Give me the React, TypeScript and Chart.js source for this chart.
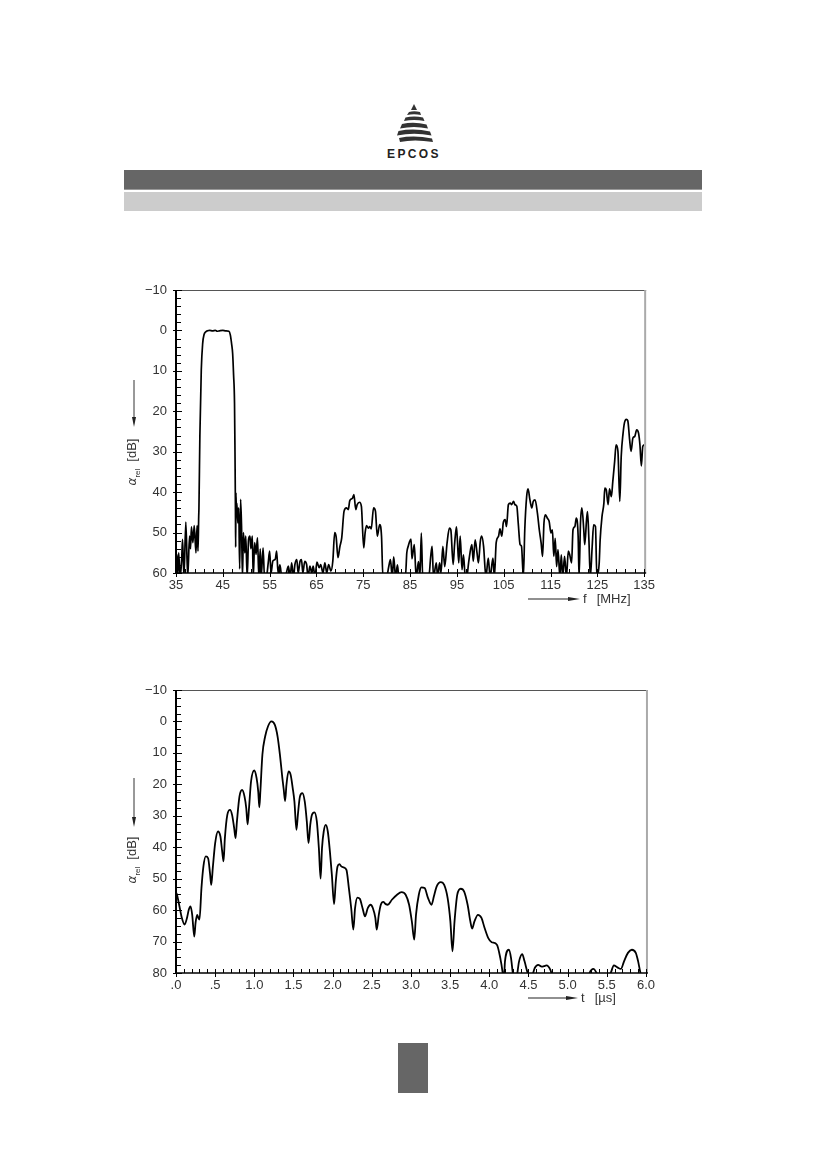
import React, { useEffect, useRef } from "react";
import { Chart, registerables } from "chart.js";

Chart.register(...registerables);

// ---------- Frequency response (top chart) ----------
const freqMHz = [
  35.0, 35.2, 35.4, 35.57, 35.9, 36.2, 36.4, 36.7, 37.1, 37.5, 37.9, 38.1, 38.3, 38.6, 38.9, 39.26, 39.5, 39.7, 39.85, 39.9,
  40.1, 40.4, 40.7, 41.0, 41.3, 41.7, 42.2, 42.8, 43.4, 43.8, 44.3, 45.0, 45.6, 46.3, 46.6, 46.9, 47.1, 47.3, 47.5, 47.6,
  47.7, 47.75, 47.8, 47.9, 48.0, 48.2, 48.4, 48.6, 48.8, 49.0, 49.2, 49.4, 49.7, 49.9, 50.2, 50.5, 50.8, 51.0, 51.3, 51.5,
  51.8, 52.1, 52.4, 52.7, 53.0, 53.2, 53.6, 53.9, 54.3, 54.7, 55.0, 55.3, 55.7, 56.2, 56.5, 56.8, 57.2, 57.6, 58.3, 59.0,
  59.4, 59.7, 60.1, 60.4, 60.8, 61.1, 61.5, 61.8, 62.1, 62.5, 62.9, 63.2, 63.6, 64.0, 64.3, 64.7, 65.1, 65.6, 65.9, 66.4,
  66.8, 67.2, 67.6, 68.1, 68.5, 68.9, 69.2, 69.6, 70.0, 70.4, 70.9, 71.4, 71.8, 72.1, 72.4, 72.7, 73.0, 73.4, 73.7, 74.2,
  74.6, 75.1, 75.4, 75.7, 76.1, 76.4, 76.7, 77.2, 77.6, 78.0, 78.5, 78.9, 79.2, 80.0, 80.4, 80.8, 81.2, 81.5, 81.9, 82.3,
  82.6, 84.0, 84.3, 84.6, 84.9, 85.2, 85.4, 85.9, 86.3, 86.8, 87.1, 87.4, 87.7, 89.0, 89.4, 89.7, 90.0, 90.6, 90.9, 91.3,
  91.6, 92.0, 92.4, 92.9, 93.4, 93.7, 94.2, 94.5, 94.9, 95.1, 95.4, 95.7, 96.1, 96.4, 96.8, 97.1, 97.5, 97.8, 98.2, 98.5,
  98.9, 99.3, 99.6, 100.0, 100.3, 100.7, 101.2, 101.7, 102.1, 102.7, 103.0, 103.4, 103.9, 104.2, 104.6, 104.9, 105.3, 105.6, 106.0, 106.4,
  106.7, 107.1, 107.4, 107.8, 108.1, 108.5, 108.8, 109.2, 109.5, 109.9, 110.2, 110.6, 111.0, 111.3, 111.7, 112.2, 112.6, 113.0, 113.3, 113.6,
  113.9, 114.3, 114.7, 115.1, 115.4, 115.7, 116.0, 116.3, 116.6, 117.0, 117.3, 117.6, 118.0, 118.4, 118.8, 119.1, 119.5, 119.8, 120.2, 120.5,
  120.9, 121.1, 121.4, 121.7, 122.1, 122.3, 122.7, 122.9, 123.2, 123.5, 123.9, 124.2, 124.6, 124.9, 125.4, 125.6, 126.0, 126.4, 126.6, 126.9,
  127.3, 127.6, 128.0, 128.3, 128.7, 129.0, 129.4, 129.8, 130.1, 130.5, 130.8, 131.2, 131.5, 131.9, 132.2, 132.6, 133.0, 133.4, 133.8, 134.1,
  134.4, 134.7, 135.0,
];
const freqAttenDb = [
  56, 55.4, 60.5, 55, 61, 57, 51.7, 61, 47.4, 61, 50.9, 54, 48.6, 52.5, 48.3, 55, 48.3, 54.6, 46, 44,
  26, 9.8, 3.2, 1.0, 0.4, 0.1, 0.0, 0.1, 0.0, 0.2, 0.1, 0.0, 0.1, 0.2, 1.1, 3.5, 5.7, 11, 18, 30,
  45, 53.6, 40.2, 44.7, 42.7, 47.6, 43.9, 59, 41.8, 48.4, 61, 50, 55, 50.9, 61, 51.7, 50.9, 54, 50.9, 61,
  52.5, 55.4, 51.3, 61, 54, 61, 53.8, 61, 61, 57.5, 54.6, 60, 57, 56.6, 54.6, 60, 58, 61, 61, 58.3,
  61, 57.5, 61, 57.9, 56.7, 60, 57.1, 56.7, 60, 57.1, 57.9, 61, 58.3, 60, 58.3, 61, 57.3, 58.7, 57.9, 60,
  57.5, 60, 57.9, 59.5, 57, 50, 51, 56.2, 53.5, 51.3, 44.7, 43.9, 44.3, 42.2, 41.7, 41.5, 40.6, 44.3, 43.1, 42.5,
  43.5, 53.8, 50, 48.3, 48.9, 48.5, 49.1, 43.9, 44.7, 50.9, 48, 50.9, 61, 61, 58.7, 56.7, 61, 56, 61, 58,
  61, 61, 55, 53.4, 52.2, 51.6, 56.5, 53, 61, 57.2, 61, 50.1, 61, 61, 56, 53.4, 61, 57.5, 61, 57.5,
  60, 53.4, 58.4, 52.6, 48.9, 49.3, 57.9, 53, 48.6, 51.8, 57.5, 50.9, 59.2, 55.5, 61, 61, 57.5, 55, 53, 57.1,
  51.8, 55, 57.5, 52.2, 50.9, 53.4, 61, 56.3, 61, 56.3, 61, 52.4, 50.9, 49.1, 50.9, 47.6, 46.8, 48.5, 43.1, 42.7,
  43.1, 42.3, 43.1, 43.5, 47.6, 53, 53.4, 61, 49.3, 41.1, 39.2, 41.9, 43.9, 42.3, 41.9, 45.2, 49.3, 52.6, 55.9, 47.6,
  45.6, 46.4, 47.2, 50.1, 49.3, 55.9, 51.4, 58.4, 54.2, 61, 55.5, 61, 55.9, 61, 54.6, 55.5, 57.5, 49.3, 48.5, 46.4,
  50.9, 61, 47.6, 43.9, 49.3, 53, 46.8, 44.8, 51.8, 61, 53.4, 48.1, 48.5, 61, 57.5, 51.8, 46, 42.7, 39, 39.4,
  43.1, 39.2, 41.1, 37.4, 32.4, 28.3, 29.9, 42.3, 31.2, 25.4, 22.8, 22, 22.3, 27.1, 29.9, 26.6, 26.2, 24.6, 25.4, 28.3,
  33.5, 28.7, 28.3,
];
const freqTickValues = [35, 45, 55, 65, 75, 85, 95, 105, 115, 125, 135];
const freqTickLabels = ["35", "45", "55", "65", "75", "85", "95", "105", "115", "125", "135"];
const freqDbTickValues = [-10, 0, 10, 20, 30, 40, 50, 60];
const freqDbTickLabels = ["\u221210", "0", "10", "20", "30", "40", "50", "60"];

// ---------- Impulse response (bottom chart) ----------
const timeUs = [
  0.0, 0.01, 0.04, 0.075, 0.11, 0.14, 0.163, 0.185, 0.207, 0.233, 0.25, 0.27, 0.286, 0.3, 0.325, 0.35, 0.38, 0.41, 0.435, 0.45,
  0.47, 0.5, 0.536, 0.567, 0.59, 0.607, 0.624, 0.655, 0.69, 0.716, 0.743, 0.76, 0.778, 0.81, 0.844, 0.875, 0.897, 0.914, 0.932, 0.958,
  0.998, 1.029, 1.05, 1.064, 1.077, 1.103, 1.138, 1.174, 1.218, 1.262, 1.297, 1.327, 1.358, 1.376, 1.393, 1.41, 1.437, 1.464, 1.49, 1.512,
  1.538, 1.556, 1.582, 1.613, 1.644, 1.67, 1.692, 1.714, 1.736, 1.767, 1.798, 1.824, 1.846, 1.864, 1.886, 1.912, 1.938, 1.965, 1.99, 2.018,
  2.04, 2.062, 2.088, 2.11, 2.14, 2.176, 2.207, 2.237, 2.264, 2.286, 2.316, 2.347, 2.382, 2.413, 2.448, 2.484, 2.514, 2.545, 2.563, 2.589,
  2.615, 2.646, 2.677, 2.703, 2.756, 2.822, 2.879, 2.932, 2.976, 3.011, 3.042, 3.064, 3.1, 3.134, 3.174, 3.218, 3.262, 3.292, 3.327, 3.38,
  3.424, 3.468, 3.503, 3.53, 3.556, 3.591, 3.635, 3.679, 3.723, 3.758, 3.78, 3.81, 3.855, 3.9, 3.94, 3.987, 4.03, 4.097, 4.14, 4.171,
  4.185, 4.2, 4.25, 4.277, 4.3, 4.33, 4.38, 4.42, 4.45, 4.49, 4.53, 4.58, 4.624, 4.67, 4.7, 4.73, 4.78, 4.8, 5.0, 5.25,
  5.28, 5.33, 5.37, 5.45, 5.55, 5.59, 5.635, 5.68, 5.72, 5.77, 5.82, 5.87, 5.9, 5.93, 6.0,
];
const timeAttenDb = [
  54.5, 54.9, 58.3, 62.5, 64.6, 62.5, 59.9, 58.8, 61.5, 68.4, 64, 61.5, 62.5, 63, 53, 46.1, 42.9, 43.5, 48.5, 52,
  46.5, 38.7, 35, 36.6, 41.4, 44.5, 37.1, 29.7, 28.1, 29.7, 34, 37.1, 31.8, 23.9, 21.8, 23.9, 27.6, 32.7, 27.6, 19.1,
  15.6, 18, 22.3, 27.3, 22.3, 10.6, 4.8, 1.6, 0, 1.1, 4.8, 10.6, 18, 21.8, 25.3, 20.2, 15.9, 17, 21.2, 25.5,
  34.5, 29.7, 23.9, 22.8, 25.5, 31.8, 38.7, 32.9, 29.7, 28.9, 31.8, 40.3, 50, 40.3, 35, 32.9, 35, 41.4, 48.8, 58.1,
  50.9, 46.1, 45.4, 46.1, 46.4, 47.2, 53, 59.4, 66.2, 59.4, 56, 56.4, 59.4, 62, 59.4, 58.3, 59.4, 62.5, 66.2, 61.5,
  58.3, 57.4, 58.1, 58.3, 56.7, 55.1, 54.3, 55.1, 58.3, 63.6, 69.4, 61.5, 55.1, 52.8, 53, 56.2, 58.3, 55.7, 52.5, 51.1,
  52, 56.2, 63.6, 73.1, 63.6, 55.1, 53.2, 54.1, 58.3, 63.6, 65.9, 63.6, 61.5, 62.5, 65.7, 68.9, 70.2, 71, 75.2, 80,
  83, 76.3, 72.6, 75.2, 80, 84, 76.3, 74, 76.3, 80, 82, 78.4, 77.4, 78, 77.8, 77.6, 79, 80.5, 85, 83,
  80, 78.7, 80, 84, 80, 77.6, 78.2, 78.7, 76.3, 73.6, 72.6, 73.6, 76.3, 80, 84,
];
const timeTickValues = [0, 0.5, 1, 1.5, 2, 2.5, 3, 3.5, 4, 4.5, 5, 5.5, 6];
const timeTickLabels = [".0", ".5", "1.0", "1.5", "2.0", "2.5", "3.0", "3.5", "4.0", "4.5", "5.0", "5.5", "6.0"];
const timeDbTickValues = [-10, 0, 10, 20, 30, 40, 50, 60, 70, 80];
const timeDbTickLabels = ["\u221210", "0", "10", "20", "30", "40", "50", "60", "70", "80"];

const FONT = "'Liberation Sans', Arial, sans-serif";

const frameTicksPlugin = {
  id: "frameTicks",
  afterDraw(chart: any, _args: any, opts: any) {
    const { ctx, chartArea: a, scales } = chart;
    const xs = scales.x;
    const ys = scales.y;
    ctx.save();
    // top border
    ctx.strokeStyle = "#555";
    ctx.lineWidth = 1;
    ctx.beginPath();
    ctx.moveTo(a.left, a.top + 0.5);
    ctx.lineTo(a.right + 2, a.top + 0.5);
    ctx.stroke();
    // right border
    ctx.strokeStyle = "#aaa";
    ctx.lineWidth = 2;
    ctx.beginPath();
    ctx.moveTo(a.right + 1, a.top);
    ctx.lineTo(a.right + 1, a.bottom);
    ctx.stroke();

    ctx.strokeStyle = "#000";
    ctx.lineWidth = 1;
    // x ticks
    const nx = Math.round((xs.max - xs.min) / opts.minorX);
    for (let i = 0; i <= nx; i++) {
      const v = xs.min + i * opts.minorX;
      const q = (v - xs.min) / opts.majorX;
      const major = Math.abs(q - Math.round(q)) < 1e-6;
      const px = Math.round(xs.getPixelForValue(v)) + 0.5;
      ctx.beginPath();
      ctx.moveTo(px, a.bottom - 4);
      ctx.lineTo(px, a.bottom + (major ? 4 : 0));
      ctx.stroke();
    }
    // y ticks
    const ny = Math.round((ys.max - ys.min) / opts.minorY);
    for (let i = 0; i <= ny; i++) {
      const v = ys.min + i * opts.minorY;
      const q = (v - ys.min) / opts.majorY;
      const major = Math.abs(q - Math.round(q)) < 1e-6;
      const py = Math.round(ys.getPixelForValue(v)) + 0.5;
      ctx.beginPath();
      ctx.moveTo(a.left - (major ? 3 : 0), py);
      ctx.lineTo(a.left + (major ? 6 : 5), py);
      ctx.stroke();
    }
    // axes
    ctx.lineWidth = 2;
    ctx.beginPath();
    ctx.moveTo(a.left, a.top);
    ctx.lineTo(a.left, a.bottom + 1);
    ctx.stroke();
    ctx.lineWidth = 1.5;
    ctx.beginPath();
    ctx.moveTo(a.left, a.bottom);
    ctx.lineTo(a.right + 2, a.bottom);
    ctx.stroke();
    ctx.restore();
  },
};

type ChartProps = {
  left: number;
  top: number;
  xs: number[];
  ys: number[];
  xMin: number;
  xMax: number;
  xTicks: number[];
  xLabels: string[];
  yMin: number;
  yMax: number;
  yTicks: number[];
  yLabels: string[];
  minorX: number;
  majorX: number;
  minorY: number;
  majorY: number;
  lineWidth: number;
};

const W = 540;
const H = 345;

function ResponseChart(p: ChartProps) {
  const ref = useRef<HTMLCanvasElement | null>(null);
  useEffect(() => {
    if (!ref.current) return;
    const data = p.xs.map((x, i) => ({ x, y: p.ys[i] }));
    const tickFont = { family: FONT, size: 13 };
    const chart = new Chart(ref.current, {
      type: "line",
      data: {
        datasets: [
          {
            data,
            borderColor: "#000",
            borderWidth: p.lineWidth,
            pointRadius: 0,
            fill: false,
            cubicInterpolationMode: "monotone",
            clip: 0,
          } as any,
        ],
      },
      options: {
        animation: false,
        responsive: false,
        devicePixelRatio: 1,
        layout: { padding: { top: 20, right: 14, left: 0, bottom: 0 } },
        plugins: {
          legend: { display: false },
          tooltip: { enabled: false },
          frameTicks: { minorX: p.minorX, majorX: p.majorX, minorY: p.minorY, majorY: p.majorY },
        } as any,
        scales: {
          x: {
            type: "linear",
            min: p.xMin,
            max: p.xMax,
            grid: { display: false, drawTicks: false },
            border: { display: false },
            afterBuildTicks: (s: any) => {
              s.ticks = p.xTicks.map((v) => ({ value: v }));
            },
            afterFit: (s: any) => {
              s.height = 42;
            },
            ticks: {
              autoSkip: false,
              maxRotation: 0,
              padding: 5,
              color: "#333",
              font: tickFont,
              callback: (_v: any, i: number) => p.xLabels[i],
            },
          },
          y: {
            type: "linear",
            reverse: true,
            min: p.yMin,
            max: p.yMax,
            grid: { display: false, drawTicks: false },
            border: { display: false },
            afterBuildTicks: (s: any) => {
              s.ticks = p.yTicks.map((v) => ({ value: v }));
            },
            afterFit: (s: any) => {
              s.width = 56;
            },
            ticks: {
              autoSkip: false,
              padding: 9,
              color: "#333",
              font: tickFont,
              callback: (_v: any, i: number) => p.yLabels[i],
            },
          },
        },
      },
      plugins: [frameTicksPlugin],
    });
    return () => chart.destroy();
  }, []);
  return (
    <canvas
      ref={ref}
      width={W}
      height={H}
      style={{ position: "absolute", left: p.left, top: p.top, width: W, height: H }}
    />
  );
}

function DownArrowLabel({ cx, arrowTop, arrowBottom, labelCenter }: { cx: number; arrowTop: number; arrowBottom: number; labelCenter: number }) {
  return (
    <>
      <svg
        style={{ position: "absolute", left: cx - 5, top: arrowTop, overflow: "visible" }}
        width={10}
        height={arrowBottom - arrowTop}
      >
        <line x1={5} y1={0} x2={5} y2={arrowBottom - arrowTop - 8} stroke="#333" strokeWidth={1} />
        <polygon
          points={`3,${arrowBottom - arrowTop - 10} 7,${arrowBottom - arrowTop - 10} 5,${arrowBottom - arrowTop}`}
          fill="#222"
        />
      </svg>
      <div
        style={{
          position: "absolute",
          left: cx + 1,
          top: labelCenter,
          transform: "translate(-50%, -50%) rotate(-90deg)",
          whiteSpace: "nowrap",
          fontFamily: FONT,
          fontSize: 13,
          color: "#333",
          lineHeight: "14px",
        }}
      >
        <span style={{ fontFamily: "'DejaVu Sans', sans-serif", fontStyle: "italic", fontSize: 12 }}>α</span>
        <sub style={{ fontSize: 8 }}>rel</sub>
        <span style={{ marginLeft: 7 }}>[dB]</span>
      </div>
    </>
  );
}

function RightArrowLabel({ y, x0, x1, sym, unit }: { y: number; x0: number; x1: number; sym: string; unit: string }) {
  return (
    <>
      <svg style={{ position: "absolute", left: x0, top: y - 5, overflow: "visible" }} width={x1 - x0} height={10}>
        <line x1={0} y1={5} x2={x1 - x0 - 8} y2={5} stroke="#222" strokeWidth={1.2} />
        <polygon points={`${x1 - x0 - 12},3 ${x1 - x0 - 12},7 ${x1 - x0},5`} fill="#222" />
      </svg>
      <div
        style={{
          position: "absolute",
          left: x1 + 3,
          top: y - 8,
          whiteSpace: "nowrap",
          fontFamily: FONT,
          fontSize: 13,
          color: "#333",
          lineHeight: "16px",
        }}
      >
        {sym}
        <span style={{ marginLeft: 10 }}>[{unit}]</span>
      </div>
    </>
  );
}

function Logo() {
  return (
    <svg style={{ position: "absolute", left: 380, top: 100 }} width={70} height={62}>
      <polygon points="34,4 31,10 37,10" fill="#333" />
      <path d="M29,12 Q34,10.5 40,12 L41,15 Q34,13.5 27,15 Z" fill="#333" />
      <path d="M25.5,17.5 Q34,15.5 43,17.5 L44.5,21 Q34,19 24,21 Z" fill="#333" />
      <path d="M22,24 Q34,21.5 46.5,24.5 L48,28.5 Q34,25.5 20,28.5 Z" fill="#333" />
      <path d="M18.5,31 Q34,28 50,31.5 L51.5,35.5 Q34,32 17,35.5 Z" fill="#333" />
      <path d="M19,38 Q34,35 52,38.5 L53,42 Q34,39 20,42 Z" fill="#333" />
      <text
        x={34}
        y={58}
        textAnchor="middle"
        fontFamily="'Liberation Sans', Arial, sans-serif"
        fontWeight="bold"
        fontSize={12}
        letterSpacing={2.4}
        fill="#222"
      >
        EPCOS
      </text>
    </svg>
  );
}

export default function App() {
  return (
    <div style={{ position: "absolute", left: 0, top: 0, width: 826, height: 1169, background: "#fff", overflow: "hidden" }}>
      <Logo />
      <div style={{ position: "absolute", left: 124, top: 170, width: 578, height: 19, background: "#666", borderBottom: "1px solid #999" }} />
      <div style={{ position: "absolute", left: 124, top: 192, width: 578, height: 19, background: "#ccc" }} />

      <ResponseChart
        left={120}
        top={270}
        xs={freqMHz}
        ys={freqAttenDb}
        xMin={35}
        xMax={135}
        xTicks={freqTickValues}
        xLabels={freqTickLabels}
        yMin={-10}
        yMax={60}
        yTicks={freqDbTickValues}
        yLabels={freqDbTickLabels}
        minorX={2}
        majorX={10}
        minorY={2}
        majorY={10}
        lineWidth={1.7}
      />
      <DownArrowLabel cx={134} arrowTop={380} arrowBottom={427} labelCenter={462} />
      <RightArrowLabel y={599} x0={528} x1={580} sym="f" unit="MHz" />

      <ResponseChart
        left={120}
        top={670}
        xs={timeUs}
        ys={timeAttenDb}
        xMin={0}
        xMax={6}
        xTicks={timeTickValues}
        xLabels={timeTickLabels}
        yMin={-10}
        yMax={80}
        yTicks={timeDbTickValues}
        yLabels={timeDbTickLabels}
        minorX={0.1}
        majorX={0.5}
        minorY={2.5}
        majorY={10}
        lineWidth={1.8}
      />
      <DownArrowLabel cx={134} arrowTop={778} arrowBottom={827} labelCenter={860} />
      <RightArrowLabel y={998} x0={528} x1={578} sym="t" unit={"\u00b5s"} />

      <div style={{ position: "absolute", left: 398, top: 1043, width: 30, height: 50, background: "#666" }} />
    </div>
  );
}
